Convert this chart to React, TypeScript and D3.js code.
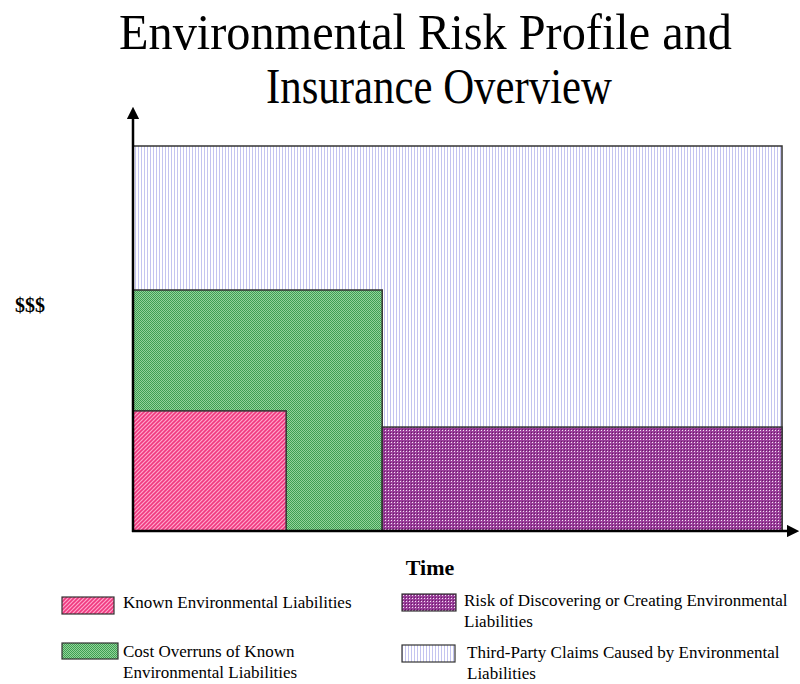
import React from "react";
import * as d3 from "d3";

const seriesNames = [
  "Third-Party Claims Caused by Environmental Liabilities",
  "Cost Overruns of Known Environmental Liabilities",
  "Known Environmental Liabilities",
  "Risk of Discovering or Creating Environmental Liabilities",
];
const seriesStart = [0, 0, 0, 38.4];
const seriesEnd = [100, 38.4, 23.6, 100];
const seriesHeight = [100, 62.6, 31.2, 27];
const seriesPattern = ["pThird", "pGreen", "pPink", "pPurple"];

const legendLines = [
  ["Known Environmental Liabilities"],
  ["Risk of Discovering or Creating Environmental", "Liabilities"],
  ["Cost Overruns of Known", "Environmental Liabilities"],
  ["Third-Party Claims Caused by Environmental", "Liabilities"],
];
const legendPattern = ["pPink", "pPurple", "pGreen", "pThird"];

export default function App() {
  const W = 800, H = 684;
  const x = d3.scaleLinear().domain([0, 100]).range([133, 782]);
  const y = d3.scaleLinear().domain([0, 100]).range([531, 146]);
  const font = "'Liberation Serif', 'Times New Roman', serif";

  const legendPos = [
    { sx: 62, sy: 597, sw: 52, sh: 17, tx: 123, ty: 608 },
    { sx: 402, sy: 594, sw: 54, sh: 17, tx: 464, ty: 606 },
    { sx: 62, sy: 643, sw: 56, sh: 16, tx: 123, ty: 657 },
    { sx: 402, sy: 645, sw: 53, sh: 17, tx: 467, ty: 658 },
  ];

  return (
    <svg width={W} height={H} style={{ position: "absolute", left: 0, top: 0 }}>
      <defs>
        <pattern id="pThird" width="3" height="3" patternUnits="userSpaceOnUse">
          <rect width="3" height="3" fill="#ffffff" />
          <rect x="0" width="1" height="3" fill="#c4c4f0" />
        </pattern>
        <pattern id="pGreen" width="2" height="2" patternUnits="userSpaceOnUse">
          <rect width="2" height="2" fill="#93d29a" />
          <rect x="0" y="0" width="1" height="1" fill="#3e9f52" />
          <rect x="1" y="1" width="1" height="1" fill="#3e9f52" />
        </pattern>
        <pattern id="pPink" width="4" height="4" patternUnits="userSpaceOnUse">
          <rect width="4" height="4" fill="#ffa6cc" />
          <path d="M-1,1 l2,-2 M0,4 l4,-4 M3,5 l2,-2" stroke="#f0397f" strokeWidth="1.6" />
        </pattern>
        <pattern id="pPurple" width="3" height="3" patternUnits="userSpaceOnUse">
          <rect width="3" height="3" fill="#9a3f9a" />
          <rect x="1" y="1" width="1" height="1" fill="#f4e4f4" />
          <rect x="0" y="0" width="1" height="1" fill="#6a1a6a" />
        </pattern>
        <marker id="arrow" viewBox="0 0 10 10" refX="5" refY="5" markerWidth="5" markerHeight="5" orient="auto">
          <path d="M0,0 L10,5 L0,10 z" fill="#000" />
        </marker>
      </defs>

      <text x={119} y={49} fontFamily={font} fontSize={50} textLength={613} lengthAdjust="spacingAndGlyphs">
        Environmental Risk Profile and
      </text>
      <text x={266} y={103} fontFamily={font} fontSize={50} textLength={346} lengthAdjust="spacingAndGlyphs">
        Insurance Overview
      </text>

      {seriesNames.map((n, i) => (
        <rect
          key={n}
          x={x(seriesStart[i])}
          y={y(seriesHeight[i])}
          width={x(seriesEnd[i]) - x(seriesStart[i])}
          height={y(0) - y(seriesHeight[i])}
          fill={`url(#${seriesPattern[i]})`}
          stroke="#333"
          strokeWidth={1.5}
        />
      ))}

      <line x1={133} y1={532} x2={133} y2={113} stroke="#000" strokeWidth={2.5} markerEnd="url(#arrow)" />
      <line x1={132} y1={531} x2={793} y2={531} stroke="#000" strokeWidth={2.5} markerEnd="url(#arrow)" />

      <text x={30} y={312} textAnchor="middle" fontFamily={font} fontSize={20} fontWeight="bold">$$$</text>
      <text x={430} y={575} textAnchor="middle" fontFamily={font} fontSize={22} fontWeight="bold">Time</text>

      {legendLines.map((lines, i) => {
        const p = legendPos[i];
        return (
          <g key={i}>
            <rect x={p.sx} y={p.sy} width={p.sw} height={p.sh} fill={`url(#${legendPattern[i]})`} stroke="#333" strokeWidth={1.2} />
            {lines.map((t, j) => (
              <text key={j} x={p.tx} y={p.ty + j * 21} fontFamily={font} fontSize={17}>{t}</text>
            ))}
          </g>
        );
      })}
    </svg>
  );
}
